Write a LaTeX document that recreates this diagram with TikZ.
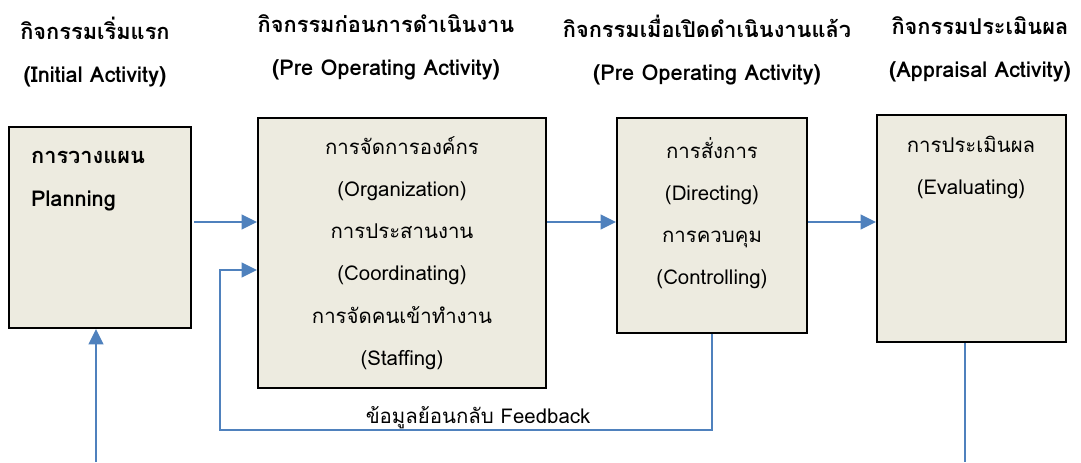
\documentclass[tikz,border=0pt]{standalone}
\usepackage{fontspec}
\setmainfont[Script=Thai]{Loma}
\usetikzlibrary{arrows.meta,positioning}
\definecolor{boxfill}{RGB}{237,235,224}
\definecolor{linkblue}{RGB}{79,129,189}

\begin{document}
\begin{tikzpicture}[x=0.025cm,y=-0.025cm,>={Triangle[length=11pt,width=10.5pt]},semithick]
 \tikzstyle{activity}=[draw=black,line width=1.4pt,fill=boxfill,inner sep=0pt]
 \tikzstyle{head}=[font=\fontsize{15.5}{30.5}\selectfont\bfseries,align=center]
 \tikzstyle{body}=[font=\fontsize{14.5}{30}\selectfont,align=center]
 \tikzstyle{link}=[draw=linkblue,line width=1.5pt]

   \useasboundingbox (0,0) rectangle (1081,462);

   % headers
   \node[head] (h1) at (95,52) {กิจกรรมเริ่มแรก\\(Initial Activity)};
   \node[head] (h2) at (386,47) {กิจกรรมก่อนการดำเนินงาน\\(Pre Operating Activity)};
   \node[head] (h3) at (707,50) {กิจกรรมเมื่อเปิดดำเนินงานแล้ว\\(Pre Operating Activity)};
   \node[head] (h4) at (980,49) {กิจกรรมประเมินผล\\(Appraisal Activity)};

   % boxes
   \node[activity,minimum width=4.55cm,minimum height=5.025cm] (plan) at (100,227.5) {};
   \node[activity,body,minimum width=7.2cm,minimum height=6.75cm] (org) at (402,253)
     {การจัดการองค์กร\\(Organization)\\การประสานงาน\\(Coordinating)\\การจัดคนเข้าทำงาน\\(Staffing)};
   \node[activity,minimum width=4.75cm,minimum height=5.375cm] (direct) at (712,225.5) {};
   \node[activity,minimum width=4.725cm,minimum height=5.675cm] (eval) at (971.5,228.5) {};

   \node[head,align=left,anchor=west] (plantext) at (26,181.5) {การวางแผน\\Planning};
   \node[body] (directtext) at (712,213) {การสั่งการ\\(Directing)\\การควบคุม\\(Controlling)};
   \node[body] (evaltext) at (971,167.5) {การประเมินผล\\(Evaluating)};

   % connectors
   \coordinate (mid) at (0,222);
   \coordinate (fbin) at (0,270);
   \coordinate (fbturn) at (220,430);
   \coordinate (start) at (96,462);
   \coordinate (evend) at (965,462);

   \draw[link,->] ([xshift=1.5pt]plan.east |- mid) -- (org.west |- mid);
   \draw[link,->] (org.east |- mid) -- (direct.west |- mid);
   \draw[link,->] (direct.east |- mid) -- (eval.west |- mid);
   \draw[link,->] (start) -- (start |- plan.south);
   \draw[link,->] (direct.south) |- (fbturn) |- (org.west |- fbin);
   \draw[link] (eval.south -| evend) -- (evend);

   \node[body] (fbtext) at (478,418) {ข้อมูลย้อนกลับ Feedback};
\end{tikzpicture}
\end{document}
